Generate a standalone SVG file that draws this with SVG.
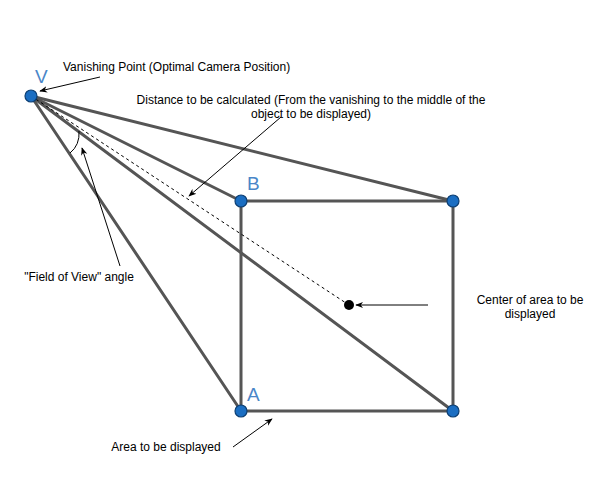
<svg xmlns="http://www.w3.org/2000/svg" width="602" height="502" viewBox="0 0 602 502">
<style>
.edge{stroke:#555;stroke-width:3;fill:none;stroke-linecap:round}
.thin{stroke:#000;stroke-width:1;fill:none}
.dot{fill:#1b6ec2;stroke:#0d3f73;stroke-width:1.2}
.lbl{font-family:"Liberation Sans",Arial,sans-serif;font-size:12px;fill:#000}
.pt{font-family:"Liberation Sans",Arial,sans-serif;font-size:19px;fill:#4a86c8}
</style>
<defs>
<marker id="ah" viewBox="0 0 10 10" refX="9" refY="5" markerWidth="8" markerHeight="8" orient="auto" markerUnits="userSpaceOnUse">
<path d="M0,1 L10,5 L0,9 L3,5 Z" fill="#000"/>
</marker>
</defs>
<rect width="602" height="502" fill="#fff"/>
<g id="connectors">
<line class="edge" x1="31" y1="96" x2="241" y2="201"/>
<line class="edge" x1="31" y1="96" x2="453" y2="201"/>
<line class="edge" x1="31" y1="96" x2="241" y2="411"/>
<line class="edge" x1="31" y1="96" x2="453" y2="411"/>
<line class="edge" x1="241" y1="201" x2="453" y2="201"/>
<line class="edge" x1="453" y1="201" x2="453" y2="411"/>
<line class="edge" x1="453" y1="411" x2="241" y2="411"/>
<line class="edge" x1="241" y1="411" x2="241" y2="201"/>
<line x1="31" y1="96" x2="349" y2="305" stroke="#000" stroke-width="1" stroke-dasharray="3,3"/>
<path class="thin" d="M79,131 Q80,145 70,153"/>
<line class="thin" x1="100" y1="77" x2="40" y2="91" marker-end="url(#ah)"/>
<line class="thin" x1="281" y1="117" x2="189" y2="196" marker-end="url(#ah)"/>
<line class="thin" x1="120" y1="266" x2="82" y2="148" marker-end="url(#ah)"/>
<line class="thin" x1="428" y1="305" x2="356" y2="305" marker-end="url(#ah)"/>
<line class="thin" x1="233" y1="447" x2="272" y2="419" marker-end="url(#ah)"/>
</g>
<g id="V"><circle class="dot" cx="31" cy="96" r="6"/><text class="pt" x="35" y="83">V</text></g>
<g id="B"><circle class="dot" cx="241" cy="201" r="6"/><text class="pt" x="247" y="190">B</text></g>
<g id="C"><circle class="dot" cx="453" cy="201" r="6"/></g>
<g id="A"><circle class="dot" cx="241" cy="411" r="6"/><text class="pt" x="247" y="401">A</text></g>
<g id="D"><circle class="dot" cx="453" cy="411" r="6"/></g>
<g id="center"><circle cx="349" cy="305" r="5" fill="#000"/></g>
<g id="labels">
<text class="lbl" x="63" y="71">Vanishing Point (Optimal Camera Position)</text>
<text class="lbl" x="311" y="104" text-anchor="middle">Distance to be calculated (From the vanishing to the middle of the</text>
<text class="lbl" x="311" y="118" text-anchor="middle">object to be displayed)</text>
<text class="lbl" x="79" y="281" text-anchor="middle">"Field of View" angle</text>
<text class="lbl" x="530" y="304" text-anchor="middle">Center of area to be</text>
<text class="lbl" x="530" y="318" text-anchor="middle">displayed</text>
<text class="lbl" x="166" y="451" text-anchor="middle">Area to be displayed</text>
</g>
</svg>
